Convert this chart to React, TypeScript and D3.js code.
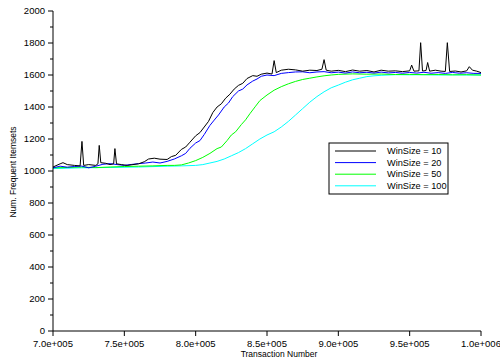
import React from "react";
import * as d3 from "d3";

type Pt = [number, number];

const seriesNames = ["WinSize = 10", "WinSize = 20", "WinSize = 50", "WinSize = 100"];
const seriesColors = ["#000000", "#0000ff", "#00ff00", "#00ffff"];

const win10: Pt[] = [
  [700000, 1025], [705000, 1045], [707000, 1052], [710000, 1040], [715000, 1035], [719000, 1032],
  [720300, 1185], [721500, 1035], [725000, 1040], [730000, 1035], [731500, 1045], [732400, 1160],
  [733500, 1052], [737000, 1048], [740000, 1040], [742500, 1045], [743400, 1140], [744500, 1045],
  [748000, 1040], [752000, 1035], [756000, 1040], [760000, 1045], [764000, 1058], [767000, 1075],
  [771000, 1080], [775000, 1074], [780000, 1072], [783000, 1090], [786000, 1098], [790000, 1135],
  [793000, 1150], [796000, 1180], [800000, 1220], [803000, 1240], [806000, 1275], [809000, 1310],
  [812000, 1365], [815000, 1400], [818000, 1420], [821000, 1455], [824000, 1480], [827000, 1512],
  [830000, 1535], [833000, 1548], [836000, 1578], [840000, 1596], [843000, 1592], [846000, 1605],
  [850000, 1612], [853500, 1606], [855000, 1690], [856500, 1615], [860000, 1630], [865000, 1636],
  [870000, 1632], [875000, 1624], [880000, 1630], [885000, 1628], [888500, 1636], [890000, 1696],
  [891500, 1630], [895000, 1624], [900000, 1629], [905000, 1621], [910000, 1631], [915000, 1624],
  [920000, 1628], [925000, 1619], [930000, 1630], [935000, 1624], [940000, 1626], [945000, 1621],
  [950000, 1626], [951400, 1662], [953000, 1624], [956500, 1626], [957700, 1802], [959000, 1625],
  [961500, 1628], [962600, 1678], [964000, 1624], [968000, 1630], [972000, 1624], [975000, 1622],
  [976400, 1802], [978000, 1622], [982000, 1625], [986000, 1619], [990000, 1626], [991800, 1652],
  [994000, 1630], [997000, 1624], [1000000, 1615],
];

const win20: Pt[] = [
  [700000, 1020], [705000, 1030], [710000, 1024], [715000, 1028], [720000, 1031], [725000, 1020],
  [730000, 1030], [735000, 1042], [740000, 1046], [745000, 1040], [750000, 1035], [755000, 1041],
  [760000, 1046], [765000, 1050], [770000, 1056], [775000, 1050], [780000, 1060], [785000, 1075],
  [790000, 1095], [793000, 1110], [796000, 1142], [800000, 1175], [803000, 1190], [806000, 1228],
  [810000, 1285], [813000, 1318], [816000, 1350], [820000, 1400], [823000, 1425], [826000, 1465],
  [830000, 1500], [833000, 1512], [836000, 1538], [840000, 1562], [843000, 1575], [846000, 1592],
  [850000, 1600], [855000, 1596], [860000, 1610], [865000, 1615], [870000, 1619], [875000, 1620],
  [880000, 1614], [885000, 1619], [890000, 1621], [895000, 1614], [900000, 1618], [905000, 1612],
  [910000, 1619], [915000, 1614], [920000, 1617], [925000, 1612], [930000, 1618], [935000, 1613],
  [940000, 1616], [945000, 1611], [950000, 1616], [955000, 1612], [960000, 1617], [965000, 1611],
  [970000, 1615], [975000, 1610], [980000, 1616], [985000, 1611], [990000, 1614], [995000, 1610],
  [1000000, 1610],
];

const win50: Pt[] = [
  [700000, 1020], [710000, 1022], [720000, 1025], [730000, 1021], [740000, 1025], [750000, 1028],
  [760000, 1030], [770000, 1032], [780000, 1035], [785000, 1035], [790000, 1038], [795000, 1050],
  [800000, 1065], [805000, 1085], [810000, 1110], [815000, 1140], [818000, 1150], [822000, 1190],
  [825000, 1225], [828000, 1245], [832000, 1290], [835000, 1320], [838000, 1358], [842000, 1405],
  [845000, 1440], [850000, 1475], [855000, 1505], [860000, 1527], [865000, 1545], [870000, 1560],
  [875000, 1572], [880000, 1580], [885000, 1588], [890000, 1595], [895000, 1600], [900000, 1604],
  [910000, 1607], [920000, 1605], [930000, 1606], [940000, 1603], [950000, 1604], [960000, 1602],
  [970000, 1603], [980000, 1601], [990000, 1602], [1000000, 1600],
];

const win100: Pt[] = [
  [700000, 1015], [720000, 1020], [740000, 1022], [760000, 1025], [780000, 1030], [790000, 1032],
  [800000, 1035], [805000, 1040], [810000, 1050], [815000, 1060], [820000, 1075], [825000, 1095],
  [830000, 1115], [835000, 1140], [840000, 1170], [845000, 1200], [850000, 1225], [855000, 1245],
  [860000, 1275], [865000, 1310], [870000, 1350], [875000, 1390], [880000, 1430], [885000, 1465],
  [890000, 1495], [895000, 1520], [900000, 1537], [905000, 1555], [910000, 1570], [915000, 1580],
  [920000, 1590], [925000, 1595], [930000, 1598], [940000, 1602], [950000, 1601], [960000, 1602],
  [970000, 1600], [980000, 1601], [990000, 1600], [1000000, 1600],
];

const allSeries = [win10, win20, win50, win100];

const xTicks = [700000, 750000, 800000, 850000, 900000, 950000, 1000000];
const xTickLabels = ["7.0e+005", "7.5e+005", "8.0e+005", "8.5e+005", "9.0e+005", "9.5e+005", "1.0e+006"];
const yTicks = [0, 200, 400, 600, 800, 1000, 1200, 1400, 1600, 1800, 2000];
const yMinorTicks = [100, 300, 500, 700, 900, 1100, 1300, 1500, 1700, 1900];

const W = 500;
const H = 359;
const left = 53;
const right = 481;
const top = 11;
const bottom = 331;
const font = "'Liberation Sans', Arial, sans-serif";

export default function App() {
  const x = d3.scaleLinear().domain([700000, 1000000]).range([left, right]);
  const y = d3.scaleLinear().domain([0, 2000]).range([bottom, top]);
  const line = d3
    .line<Pt>()
    .x((d) => x(d[0]))
    .y((d) => y(d[1]));

  const legX = 329;
  const legY = 143;
  const legW = 119;
  const legH = 51;
  const rowH = 11.6;

  return (
    <svg
      width={W}
      height={H}
      style={{ position: "absolute", left: 0, top: 0, background: "#fff" }}
      fontFamily={font}
    >
      <rect x={0} y={0} width={W} height={H} fill="#fff" />
      {allSeries
        .map((s, i) => ({ s, i }))
        .reverse()
        .map(({ s, i }) => (
          <path key={i} d={line(s) || ""} fill="none" stroke={seriesColors[i]} strokeWidth={1} />
        ))}
      <line x1={left} x2={left} y1={top} y2={bottom} stroke="#000" />
      {yTicks.map((t) => (
        <g key={"y" + t}>
          <line x1={left - 5} x2={left} y1={y(t)} y2={y(t)} stroke="#000" />
          <text x={left - 8} y={y(t)} dy="0.35em" textAnchor="end" fontSize={9.5} fill="#000">
            {t}
          </text>
        </g>
      ))}
      {yMinorTicks.map((t) => (
        <line key={"ym" + t} x1={left - 3} x2={left} y1={y(t)} y2={y(t)} stroke="#000" />
      ))}
      <line x1={left} x2={right} y1={bottom} y2={bottom} stroke="#000" />
      {xTicks.map((t, i) => (
        <g key={"x" + t}>
          <line x1={x(t)} x2={x(t)} y1={bottom} y2={bottom + 5} stroke="#000" />
          <text x={x(t)} y={347} textAnchor="middle" fontSize={9.5} fill="#000">
            {xTickLabels[i]}
          </text>
        </g>
      ))}
      <text x={279} y={357} textAnchor="middle" fontSize={8.5} fill="#000">
        Transaction Number
      </text>
      <text
        transform={`translate(16, 172) rotate(-90)`}
        textAnchor="middle"
        fontSize={8.5}
        fill="#000"
      >
        Num. Frequent Itemsets
      </text>
      <rect x={legX} y={legY} width={legW} height={legH} fill="#fff" stroke="#000" />
      {seriesNames.map((n, i) => (
        <g key={n}>
          <line
            x1={legX + 6}
            x2={legX + 47}
            y1={legY + 8 + i * rowH}
            y2={legY + 8 + i * rowH}
            stroke={seriesColors[i]}
          />
          <text x={legX + 58} y={legY + 8 + i * rowH} dy="0.35em" fontSize={9.2} fill="#000">
            {n}
          </text>
        </g>
      ))}
    </svg>
  );
}
